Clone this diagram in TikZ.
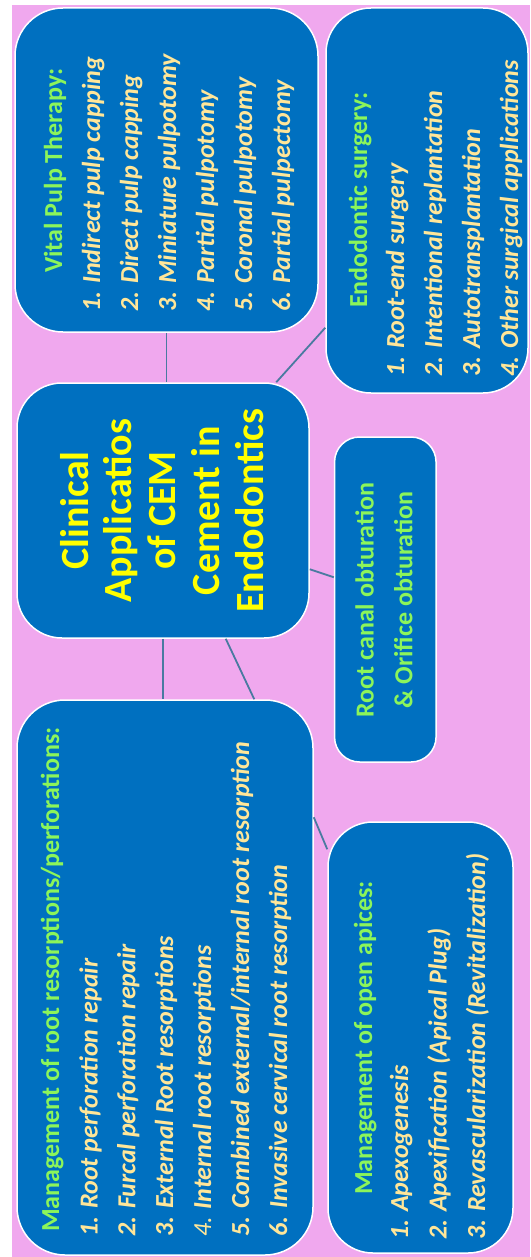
\documentclass[tikz,border=0pt]{standalone}
\usepackage{fontspec}
\setmainfont{Carlito}
\usetikzlibrary{calc}
\definecolor{bg}{HTML}{F0A8EE}
\definecolor{boxblue}{HTML}{0070C0}
\definecolor{linec}{HTML}{4A7AA0}
\definecolor{ttl}{HTML}{8CF55A}
\definecolor{itm}{HTML}{FFE699}
\definecolor{ctr}{HTML}{FFFF00}
\begin{document}
\begin{tikzpicture}[x=1pt,y=-1pt,
 box/.style={rectangle,fill=boxblue,draw=white,line width=1.5pt,inner sep=0},
 conn/.style={draw=linec,line width=1.8pt},
 ttlt/.style={rotate=90,anchor=base west,inner sep=0,text=ttl,font=\fontsize{26}{30}\selectfont\bfseries},
 itmt/.style={rotate=90,anchor=base west,inner sep=0,text=itm,font=\fontsize{26}{30}\selectfont\bfseries\itshape},
 ctrt/.style={rotate=90,anchor=base,inner sep=0,text=ctr,font=\fontsize{40}{43}\selectfont\bfseries},
 rct/.style={rotate=90,anchor=base,inner sep=0,text=ttl,font=\fontsize{26}{30}\selectfont\bfseries},
]
\useasboundingbox (0,0) rectangle (530,1257);
\fill[white] (0,0) rectangle (530,1257);
\fill[bg] (12,5) rectangle (530,1257);

% boxes
\node[box,minimum width=303pt,minimum height=324pt,rounded corners=48pt] (vital) at (166.5,170) {};
\node[box,minimum width=202pt,minimum height=385pt,rounded corners=45pt] (endo) at (427,200.5) {};
\node[box,minimum width=292pt,minimum height=255pt,rounded corners=45pt] (center) at (163,510.5) {};
\node[box,minimum width=101.5pt,minimum height=325pt,rounded corners=25pt] (canal) at (385.3,599.5) {};
\node[box,minimum width=296pt,minimum height=555pt,rounded corners=48pt] (resorp) at (165,977.5) {};
\node[box,minimum width=185pt,minimum height=431pt,rounded corners=45pt] (apices) at (420.5,1037.5) {};

% connectors
\draw[conn] (vital.south) -- (vital.south |- center.north);
\draw[conn] ($(endo.south west)+(0,-66)$) -- ($(center.north east)+(-33.5,0)$);
\draw[conn] ($(center.north east)+(0,187)$) -- ($(canal.north west)+(0,141)$);
\draw[conn] (center.south) -- (center.south |- resorp.north);
\draw[conn] ($(center.south west)+(209.5,0)$) -- ($(resorp.north west)+(238,0)$);
\draw[conn] ($(resorp.north east)+(0,118)$) -- ($(apices.north west)+(0,28)$);

% central
\node[ctrt] (c1) at (88,510.5) {Clinical};
\node[ctrt] (c2) at (131.8,510.5) {Applicatios};
\node[ctrt] (c3) at (175.6,510.5) {of CEM};
\node[ctrt] (c4) at (219.4,510.5) {Cement in};
\node[ctrt] (c5) at (263,510.5) {Endodontics};

% vital pulp therapy
\node[ttlt] (v0) at (62,273) {Vital Pulp Therapy:};
\node[itmt] (v1) at (100,312) {1. Indirect pulp capping};
\node[itmt] (v2) at (138,312) {2. Direct pulp capping};
\node[itmt] (v3) at (176,312) {3. Miniature pulpotomy};
\node[itmt] (v4) at (214,312) {4. Partial pulpotomy};
\node[itmt] (v5) at (252,312) {5. Coronal pulpotomy};
\node[itmt] (v6) at (290,312) {6. Partial pulpectomy};

% endodontic surgery
\node[ttlt] (e0) at (367,308) {Endodontic surgery:};
\node[itmt] (e1) at (404,377) {1. Root-end surgery};
\node[itmt] (e2) at (442,377) {2. Intentional replantation};
\node[itmt] (e3) at (480,377) {3. Autotransplantation};
\node[itmt] (e4) at (518,377) {4. Other surgical applications};

% root canal
\node[rct] (r1) at (373.5,600) {Root canal obturation};
\node[rct] (r2) at (412.4,600) {\& Orifice obturation};

% resorptions
\node[ttlt] (m0) at (59,1232) {Management of root resorptions/perforations:};
\node[itmt] (m1) at (97.5,1237) {1. Root perforation repair};
\node[itmt] (m2) at (135.3,1237) {2. Furcal perforation repair};
\node[itmt] (m3) at (173,1237) {3. External Root resorptions};
\node[itmt] (m4) at (211,1237) {{\mdseries 4.} Internal root resorptions};
\node[itmt] (m5) at (249,1237) {5. Combined external/internal root resorption};
\node[itmt] (m6) at (287,1237) {6. Invasive cervical root resorption};

% open apices
\node[ttlt] (a0) at (372,1195) {Management of open apices:};
\node[itmt] (a1) at (408,1240) {1. Apexogenesis};
\node[itmt] (a2) at (446.7,1240) {2. Apexification (Apical Plug)};
\node[itmt] (a3) at (485,1240) {3. Revascularization (Revitalization)};
\end{tikzpicture}
\end{document}
